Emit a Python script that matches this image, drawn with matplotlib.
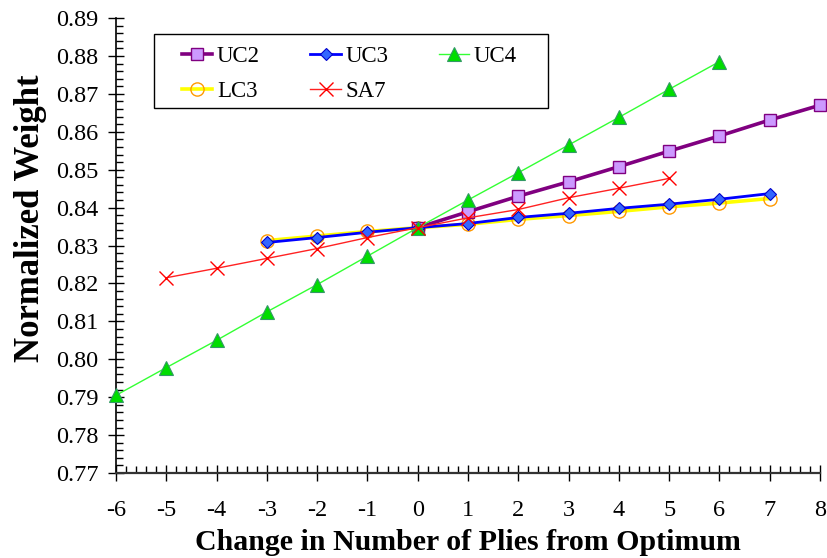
import matplotlib
matplotlib.use("Agg")
import matplotlib.pyplot as plt
from matplotlib.patches import Rectangle
from matplotlib.ticker import MultipleLocator, FormatStrFormatter

plt.rcParams['font.family'] = ['Liberation Serif', 'DejaVu Serif']
plt.rcParams['axes.unicode_minus'] = False

uc2_x = [0, 1, 2, 3, 4, 5, 6, 7, 8]
uc2_y = [0.8347, 0.8389, 0.8430, 0.8468, 0.8508, 0.8549, 0.8589, 0.8631, 0.8670]

uc3_x = [-3, -2, -1, 0, 1, 2, 3, 4, 5, 6, 7]
uc3_y = [0.8308, 0.8321, 0.8335, 0.8347, 0.8358, 0.8374, 0.8385, 0.8398, 0.8409, 0.8422, 0.8437]

uc4_x = [-6, -5, -4, -3, -2, -1, 0, 1, 2, 3, 4, 5, 6]
uc4_y = [0.7905, 0.7978, 0.8050, 0.8125, 0.8197, 0.8272, 0.8347, 0.8420, 0.8492, 0.8565, 0.8638, 0.8712, 0.8785]

lc3_x = [-3, -2, -1, 0, 1, 2, 3, 4, 5, 6, 7]
lc3_y = [0.8313, 0.8325, 0.8337, 0.8347, 0.8356, 0.8369, 0.8379, 0.8390, 0.8402, 0.8412, 0.8424]

sa7_x = [-5, -4, -3, -2, -1, 0, 1, 2, 3, 4, 5]
sa7_y = [0.8215, 0.8240, 0.8266, 0.8292, 0.8321, 0.8347, 0.8373, 0.8395, 0.8426, 0.8451, 0.8477]

fig = plt.figure(figsize=(8.27, 5.58), dpi=100)
ax = fig.add_axes([0.1403, 0.1523, 0.8512, 0.8154])

ax.plot(uc2_x, uc2_y, color='#800080', lw=2.6, marker='s', ms=9,
        mfc='#CC99FF', mec='#800080', mew=1.0, label='UC2', clip_on=False, zorder=3)
ax.plot(uc3_x, uc3_y, color='#0000FF', lw=2.0, marker='D', ms=6.5,
        mfc='#3366FF', mec='#0000CC', mew=0.8, label='UC3', clip_on=False, zorder=3)
ax.plot(uc4_x, uc4_y, color='#33FF33', lw=1.0, marker='^', ms=10.5,
        mfc='#00DD00', mec='#339966', mew=0.8, label='UC4', clip_on=False, zorder=3)
ax.plot(lc3_x, lc3_y, color='#FFFF00', lw=2.6, marker='o', ms=9.5,
        mfc='none', mec='#FF9900', mew=1.0, label='LC3', clip_on=False, zorder=2.9)
ax.plot(sa7_x, sa7_y, color='#FF2222', lw=1.0, marker='x', ms=10,
        mec='#FF0000', mew=1.0, label='SA7', clip_on=False, zorder=3.1)

ax.set_xlim(-6, 8)
ax.set_ylim(0.77, 0.89)
ax.xaxis.set_major_locator(MultipleLocator(1))
ax.xaxis.set_minor_locator(MultipleLocator(0.2))
ax.yaxis.set_major_locator(MultipleLocator(0.01))
ax.yaxis.set_minor_locator(MultipleLocator(0.002))
ax.yaxis.set_major_formatter(FormatStrFormatter('%.2f'))

for s in ['top', 'right']:
    ax.spines[s].set_visible(False)
ax.spines['left'].set_linewidth(1.2)
ax.spines['bottom'].set_linewidth(1.6)
ax.spines['bottom'].set_color('#333333')

ax.tick_params(axis='both', which='major', direction='inout', length=11, width=1.0,
               labelsize=17.5)
ax.tick_params(axis='both', which='minor', direction='in', length=5, width=1.0)
ax.tick_params(axis='x', which='major', pad=14)
ax.tick_params(axis='y', which='major', pad=7)

ax.set_xlabel('Change in Number of Plies from Optimum', fontsize=21.5, fontweight='bold', labelpad=6)
ax.set_ylabel('Normalized Weight', fontsize=25, fontweight='bold')
ax.yaxis.set_label_coords(-0.098, 0.56)

# legend box frame (layout only)
ax.add_patch(Rectangle((0.054, 0.8022), 0.5596, 0.1626, transform=ax.transAxes,
                       facecolor='white', edgecolor='black', lw=1.0, zorder=4,
                       clip_on=False))

h, l = ax.get_legend_handles_labels()
order = [0, 3, 1, 4, 2]
leg = ax.legend([h[i] for i in order], [l[i] for i in order], ncol=3,
                loc='upper left', bbox_to_anchor=(0.094, 0.938), borderaxespad=0,
                fontsize=16.5, frameon=False,
                handlelength=1.32, handletextpad=0.2, columnspacing=2.2,
                borderpad=0, labelspacing=0.6)
leg.set_zorder(5)

fig.savefig('out.png', dpi=100)
